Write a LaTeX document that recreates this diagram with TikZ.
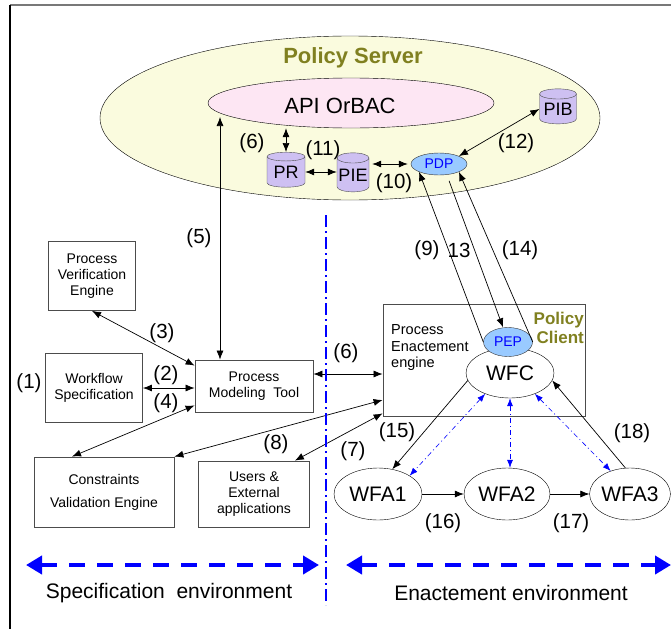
\documentclass[tikz,border=0pt]{standalone}
\usepackage{fontspec}
\setmainfont{Liberation Sans}
\usetikzlibrary{shapes.geometric, arrows.meta, positioning, calc}
\definecolor{serverfill}{RGB}{250,251,222}
\definecolor{orbacfill}{RGB}{253,230,243}
\definecolor{dbfill}{RGB}{206,192,242}
\definecolor{pointfill}{RGB}{153,202,255}
\definecolor{olivetext}{RGB}{128,128,32}
\definecolor{framegray}{RGB}{120,120,120}

\begin{document}
\begin{tikzpicture}[x=1pt, y=-1pt, >={Latex[length=9pt,width=7pt]},
  box/.style={draw=black!70, line width=0.8pt, align=center, inner sep=2pt, font=\fontsize{14}{16}\selectfont},
  lbl/.style={inner sep=0pt, font=\fontsize{20.5}{24}\selectfont},
  db/.style={cylinder, shape border rotate=90, aspect=0.35, draw=black!70, fill=dbfill, inner sep=0pt, font=\fontsize{18}{20}\selectfont},
  pt/.style={ellipse, draw=black!80, fill=pointfill, text=blue, inner sep=0pt, font=\fontsize{14}{16}\selectfont},
  wfa/.style={ellipse, draw, fill=white, inner sep=0pt, minimum height=52pt, font=\fontsize{21}{24}\selectfont},
  link/.style={<->, line width=0.7pt},
  one/.style={->, line width=0.7pt},
  bluelink/.style={<->, blue, line width=0.6pt, dash pattern=on 5pt off 3pt on 1pt off 3pt, >={Latex[length=8pt,width=6pt]}},
  envarrow/.style={<->, blue, line width=4.5pt, dash pattern=on 16pt off 12pt, >={Triangle[length=16pt,width=18pt]}},
  olivebold/.style={text=olivetext, font=\fontsize{17}{19}\selectfont\bfseries}
]
\useasboundingbox (0,0) rectangle (671,629);
% Frame
\draw[framegray, line width=1.8pt] (10,5) -- (671,5);
\draw[line width=1.2pt] (10,5) -- (10,629);

% Policy server
\node[ellipse, draw, fill=serverfill, minimum width=500pt, minimum height=164pt, inner sep=0pt] (server) at (350,118) {};
\node[olivebold, font=\fontsize{22}{24}\selectfont\bfseries, inner sep=0pt] (srvtitle) at (353,58) {Policy Server};
\node[ellipse, draw, fill=orbacfill, minimum width=286pt, minimum height=50pt, inner sep=0pt] (api) at (351,103) {};
\node[lbl, font=\fontsize{22}{24}\selectfont] (apitxt) at (340,106) {API OrBAC};
\node[db, minimum width=38pt, minimum height=35pt] (pr) at (286,172) {PR};
\node[db, minimum width=32pt, minimum height=39pt] (pie) at (353,175) {PIE};
\node[db, minimum width=37pt, minimum height=35pt] (pib) at (558,109) {PIB};
\node[pt, minimum width=56pt, minimum height=22pt] (pdp) at (439,164) {PDP};

% Specification side
\node[box, minimum width=87pt, minimum height=69pt] (pve) at (92,276) {Process\\Verification\\Engine};
\node[box, minimum width=97pt, minimum height=69pt] (wfspec) at (94,388) {Workflow\\Specification};
\node[box, minimum width=118pt, minimum height=52pt] (pmt) at (254,386) {Process\\Modeling\ \ Tool};
\node[box, minimum width=140pt, minimum height=70pt] (cve) at (104,492) {Constraints\\[7pt]Validation Engine};
\node[box, minimum width=111pt, minimum height=66pt] (users) at (254,494) {Users \&\\External\\applications};

% Enactement side
\node[box, minimum width=202pt, minimum height=112pt] (pee) at (484,360) {};
\node[align=left, inner sep=0pt, anchor=west, font=\fontsize{14.5}{16.5}\selectfont] (peetxt) at (391,348) {Process\\Enactement\\engine};
\node[olivebold, align=right, anchor=east, inner sep=0pt] (client) at (584,328) {Policy\\Client};
\node[wfa, minimum width=88pt, minimum height=50pt] (wfc) at (510,373) {WFC};
\node[pt, minimum width=49pt, minimum height=29pt] (pep) at (508,342) {PEP};
\node[wfa, minimum width=88pt] (wfa1) at (378,494) {WFA1};
\node[wfa, minimum width=86pt] (wfa2) at (507,494) {WFA2};
\node[wfa, minimum width=80pt] (wfa3) at (630,494) {WFA3};

% Connectors inside the server
\draw[link] (pr.north) -- (pr.north |- api.south);
\draw[link] (pr.east) -- (pr.east -| pie.west);
\draw[link, shorten <=3pt, shorten >=3pt] (pie.east |- pdp.west) -- (pdp.west);
\draw[link] (pib.west) -- (pdp.north east);

% Connectors on the specification side
\coordinate (apifoot) at (220,117);
\draw[link] (apifoot) -- (apifoot |- pmt.north);
\draw[link] (pve.south) -- ([yshift=-6pt]pmt.north west);
\draw[link] (wfspec.east) -- (wfspec.east -| pmt.west);
\draw[link] ([xshift=-32pt]cve.north) -- ([yshift=7pt]pmt.south west);
\draw[link] ([yshift=12pt]pmt.east) -- ([yshift=12pt]pmt.east -| pee.west);
\draw[link] ([yshift=-40pt]pee.west) -- (cve.north east);
\draw[link] ([yshift=3pt]pee.south west) -- ([xshift=-15pt]users.north east);

% Connectors between client and server
\draw[one] (pep.west) -- (pdp.south west);
\draw[one, shorten <=6pt] ([xshift=8pt]pdp.south) -- ([xshift=-5pt]pep.north);
\draw[one] (pep.east) -- (pdp.south east);

% Connectors on the enactement side
\draw[one] (wfc.190) -- (wfa1.60);
\draw[one] (wfa1) -- (wfa2);
\draw[one] (wfa2) -- (wfa3);
\draw[one] (wfa3.100) -- (wfc.-10);
\draw[bluelink] (wfc.220) -- (wfa1.30);
\draw[bluelink] (wfc.south) -- (wfc.south |- wfa2.north);
\draw[bluelink] (wfc.-40) -- (wfa3.130);

% Environments
\coordinate (divtop) at (326,215);
\coordinate (divbot) at (326,605);
\draw[blue, line width=2.8pt, dash pattern=on 12pt off 4pt on 2pt off 4pt] (divtop) -- (divbot);
\coordinate (specl) at (26,565);
\coordinate (specr) at (319,565);
\coordinate (enactl) at (346,565);
\coordinate (enactr) at (671,565);
\draw[envarrow] (specl) -- (specr);
\draw[envarrow] (enactl) -- (enactr);
\node[lbl, font=\fontsize{21}{24}\selectfont] (spectxt) at (169,593) {Specification\ \ environment};
\node[lbl, font=\fontsize{21}{24}\selectfont] (enacttxt) at (511,593) {Enactement environment};

% Step numbers
\node[lbl] (n1) at (29,383) {(1)};
\node[lbl] (n2) at (166,375) {(2)};
\node[lbl] (n3) at (162,333) {(3)};
\node[lbl] (n4) at (166,403) {(4)};
\node[lbl] (n5) at (199,238) {(5)};
\node[lbl] (n6a) at (252,143) {(6)};
\node[lbl] (n6b) at (346,353) {(6)};
\node[lbl] (n7) at (353,451) {(7)};
\node[lbl] (n8) at (276,444) {(8)};
\node[lbl] (n9) at (427,250) {(9)};
\node[lbl] (n13) at (459,250) {13};
\node[lbl] (n10) at (394,183) {(10)};
\node[lbl] (n11) at (323,150) {(11)};
\node[lbl] (n12) at (516,143) {(12)};
\node[lbl] (n14) at (520,250) {(14)};
\node[lbl] (n15) at (397,432) {(15)};
\node[lbl] (n16) at (443,523) {(16)};
\node[lbl] (n17) at (571,523) {(17)};
\node[lbl] (n18) at (632,433) {(18)};
\end{tikzpicture}
\end{document}
